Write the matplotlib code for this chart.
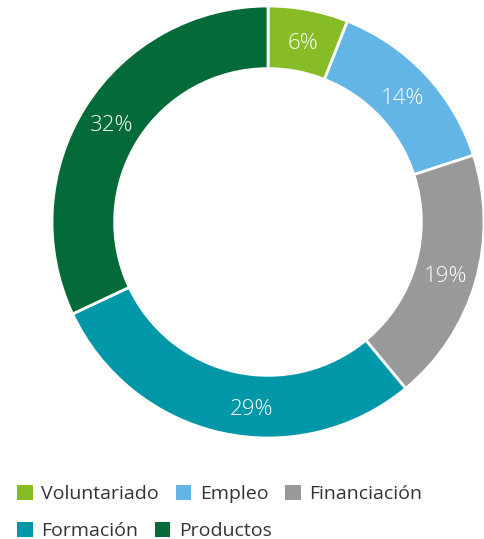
import numpy as np
import matplotlib.pyplot as plt
from matplotlib.patches import Patch

labels = ["Voluntariado", "Empleo", "Financiación", "Formación", "Productos"]
values = [6, 14, 19, 29, 32]
colors = ["#86bc25", "#62b5e5", "#97999b", "#0097a9", "#046a38"]

plt.rcParams['font.family'] = ['Open Sans', 'DejaVu Sans']

W, H = 485, 539
fig = plt.figure(figsize=(W / 100, H / 100), dpi=100)

# donut: centre ~ (268, 222) px, outer radius ~216 px
cx, cy, R = 268, 222, 216
ax = fig.add_axes([(cx - R) / W, (H - cy - R) / H, 2 * R / W, 2 * R / H])
wedges, texts = ax.pie(values, colors=colors, startangle=90, counterclock=False,
                       radius=1, labels=[str(v) + "%" for v in values],
                       labeldistance=0.855,
                       wedgeprops=dict(width=0.29, edgecolor="white", linewidth=2),
                       textprops=dict(color="white", fontsize=16, fontweight="light"))
for t in texts:
    t.set_ha("center")
    t.set_va("center_baseline")
# the 29% label sits a bit off the wedge middle in the original
a = np.deg2rad(-95)
texts[3].set_position((0.86 * np.cos(a), 0.86 * np.sin(a)))
ax.set_xlim(-1, 1)
ax.set_ylim(-1, 1)
ax.set_aspect("equal")
ax.axis("off")

handles = [Patch(facecolor=c, edgecolor="none") for c in colors]
kw = dict(frameon=False, fontsize=14, handlelength=0.8, handleheight=0.8,
          handletextpad=0.45, columnspacing=0.85, borderpad=0, borderaxespad=0,
          labelcolor="#333333", loc="center left")
fig.legend(handles[:3], labels[:3], ncol=3, bbox_to_anchor=(17 / W, 1 - 494 / H), **kw)
fig.legend(handles[3:], labels[3:], ncol=2, bbox_to_anchor=(17 / W, 1 - 531 / H), **kw)

fig.savefig("out.png", dpi=100, facecolor="white")
